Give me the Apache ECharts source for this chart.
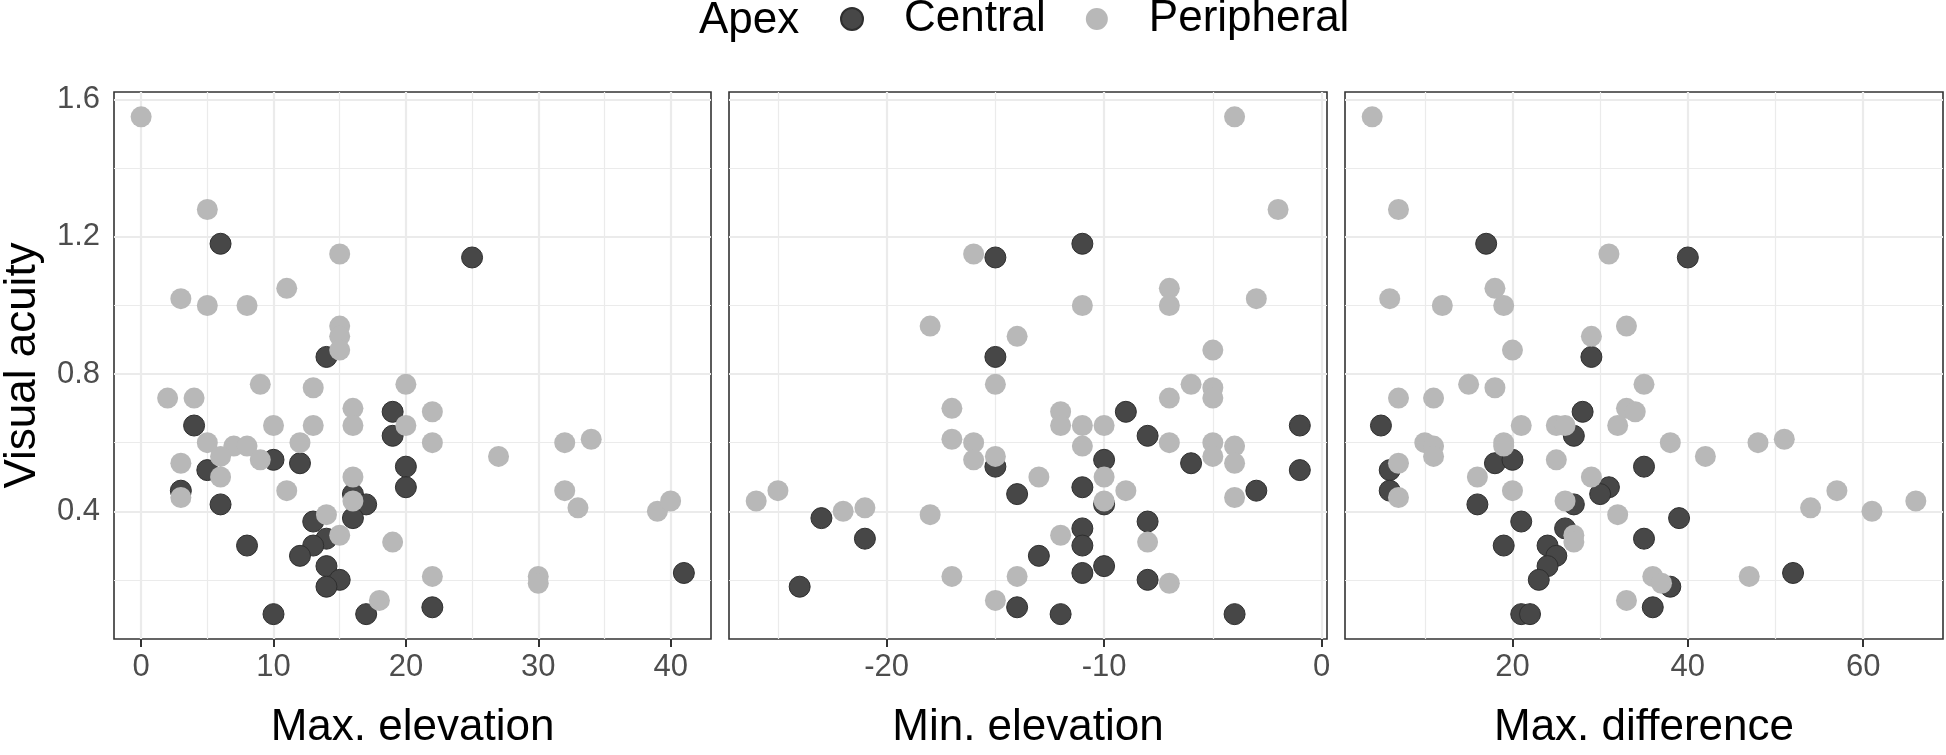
<!DOCTYPE html>
<html>
<head>
<meta charset="utf-8">
<script src="https://cdn.jsdelivr.net/npm/echarts@6/dist/echarts.min.js"></script>
<style>
  html, body { margin: 0; padding: 0; background: #fff; }
  #main { width: 1946px; height: 755px; }
</style>
</head>
<body>
<div id="main"></div>
<script>
// 数据: [x, 视力]
var maxElevCentral = [[6,1.18],[14,0.85],[25,1.14],[4,0.65],[19,0.69],[19,0.62],[10,0.55],[12,0.54],
	[5,0.52],[3,0.46],[6,0.42],[16,0.45],[17,0.42],[16,0.38],[13,0.37],[14,0.32],[13,0.30],[12,0.27],
	[8,0.30],[14,0.24],[15,0.20],[14,0.18],[10,0.10],[17,0.10],[20,0.53],[20,0.47],[41,0.22],[22,0.12]];
var maxElevPeripheral = [[0,1.55],[5,1.28],[15,1.15],[3,1.02],[5,1.00],[8,1.00],[11,1.05],[15,0.94],
	[15,0.91],[15,0.87],[9,0.77],[2,0.73],[4,0.73],[13,0.76],[20,0.77],[16,0.70],[16,0.65],[10,0.65],
	[13,0.65],[20,0.65],[5,0.60],[7,0.59],[8,0.59],[6,0.56],[9,0.55],[12,0.60],[3,0.54],[6,0.50],
	[3,0.44],[11,0.46],[16,0.50],[16,0.43],[14,0.39],[15,0.33],[19,0.31],[18,0.14],[22,0.69],[22,0.60],
	[27,0.56],[32,0.60],[34,0.61],[32,0.46],[33,0.41],[39,0.40],[40,0.43],[22,0.21],[30,0.21],[30,0.19]];

var minElevCentral = [[-11,1.18],[-15,1.14],[-15,0.85],[-9,0.69],[-1,0.65],[-8,0.62],[-15,0.53],
	[-10,0.55],[-6,0.54],[-1,0.52],[-11,0.47],[-14,0.45],[-3,0.46],[-10,0.42],[-23,0.38],[-8,0.37],
	[-11,0.35],[-21,0.32],[-11,0.30],[-13,0.27],[-10,0.24],[-24,0.18],[-11,0.22],[-8,0.20],[-14,0.12],
	[-12,0.10],[-4,0.10]];
var minElevPeripheral = [[-4,1.55],[-2,1.28],[-16,1.15],[-7,1.05],[-7,1.00],[-11,1.00],[-3,1.02],
	[-18,0.94],[-14,0.91],[-5,0.87],[-15,0.77],[-6,0.77],[-5,0.76],[-7,0.73],[-5,0.73],[-17,0.70],
	[-12,0.69],[-12,0.65],[-11,0.65],[-10,0.65],[-17,0.61],[-16,0.60],[-11,0.59],[-7,0.60],[-5,0.60],
	[-4,0.59],[-16,0.55],[-15,0.56],[-5,0.56],[-4,0.54],[-13,0.50],[-10,0.50],[-9,0.46],[-4,0.44],
	[-25,0.46],[-26,0.43],[-10,0.43],[-22,0.40],[-21,0.41],[-18,0.39],[-12,0.33],[-8,0.31],[-17,0.21],
	[-14,0.21],[-7,0.19],[-15,0.14]];

var maxDiffCentral = [[17,1.18],[40,1.14],[29,0.85],[28,0.69],[5,0.65],[27,0.62],[18,0.54],[20,0.55],
	[35,0.53],[6,0.52],[6,0.46],[31,0.47],[30,0.45],[27,0.42],[16,0.42],[39,0.38],[21,0.37],[26,0.35],
	[35,0.32],[19,0.30],[24,0.30],[25,0.27],[24,0.24],[23,0.20],[38,0.18],[36,0.12],[21,0.10],[22,0.10],
	[52,0.22]];
var maxDiffPeripheral = [[4,1.55],[7,1.28],[31,1.15],[6,1.02],[12,1.00],[18,1.05],[19,1.00],[33,0.94],
	[29,0.91],[20,0.87],[15,0.77],[18,0.76],[35,0.77],[7,0.73],[11,0.73],[33,0.70],[34,0.69],[21,0.65],
	[25,0.65],[26,0.65],[32,0.65],[10,0.60],[11,0.59],[11,0.56],[19,0.60],[19,0.59],[38,0.60],[42,0.56],
	[48,0.60],[51,0.61],[25,0.55],[7,0.54],[16,0.50],[29,0.50],[7,0.44],[20,0.46],[26,0.43],[32,0.39],
	[27,0.33],[27,0.31],[36,0.21],[37,0.19],[33,0.14],[47,0.21],[54,0.41],[57,0.46],[61,0.40],[66,0.43]];

// 刻度
var yTicks = [0.4, 0.8, 1.2, 1.6];
var yMinor = [0.2, 0.6, 1.0, 1.4];
var maxElevTicks = [0, 10, 20, 30, 40];
var maxElevMinor = [5, 15, 25, 35];
var minElevTicks = [-20, -10, 0];
var minElevMinor = [-25, -15, -5];
var maxDiffTicks = [20, 40, 60];
var maxDiffMinor = [10, 30, 50];

var FONT = 'Liberation Sans';
var DARK = '#474747';
var LIGHT = '#b8b8b8';

var panels = [
	{ left: 113, name: 'Max. elevation', min: -2.05, max: 43.05, ticks: maxElevTicks, minor: maxElevMinor,
		central: maxElevCentral, peripheral: maxElevPeripheral },
	{ left: 729, name: 'Min. elevation', min: -27.25, max: 0.25, ticks: minElevTicks, minor: minElevMinor,
		central: minElevCentral, peripheral: minElevPeripheral },
	{ left: 1345, name: 'Max. difference', min: 0.9, max: 69.1, ticks: maxDiffTicks, minor: maxDiffMinor,
		central: maxDiffCentral, peripheral: maxDiffPeripheral }
];

var grids = [], xAxes = [], yAxes = [], series = [];

panels.forEach(function(p, i) {
	grids.push({
		left: p.left, top: 92, width: 598, height: 555,
		show: true, borderColor: '#333333', borderWidth: 1.6, backgroundColor: 'transparent'
	});
	xAxes.push({
		gridIndex: i, type: 'value', min: p.min, max: p.max,
		name: p.name, nameLocation: 'middle', nameGap: 67,
		nameTextStyle: { fontFamily: FONT, fontSize: 44, color: '#000' },
		axisLine: { show: false },
		axisTick: { show: true, customValues: p.ticks, length: 8, lineStyle: { color: '#333', width: 2 } },
		axisLabel: { customValues: p.ticks, margin: 13, fontFamily: FONT, fontSize: 31, color: '#4d4d4d' },
		splitLine: { show: false }
	});
	yAxes.push({
		gridIndex: i, type: 'value', min: 0.0275, max: 1.6225,
		name: i == 0 ? 'Visual acuity' : '', nameLocation: 'middle', nameGap: 69,
		nameTextStyle: { fontFamily: FONT, fontSize: 44, color: '#000' },
		axisLine: { show: false },
		axisTick: { show: i == 0, customValues: yTicks, length: 8, lineStyle: { color: '#333', width: 2 } },
		axisLabel: { show: i == 0, customValues: yTicks, margin: 14, fontFamily: FONT, fontSize: 31,
			color: '#4d4d4d', formatter: function(v) { return v.toFixed(1); } },
		splitLine: { show: false }
	});

	// 网格线
	var lines = [];
	p.minor.forEach(function(v) { lines.push({ xAxis: v, lineStyle: { width: 1.2 } }); });
	yMinor.forEach(function(v) { lines.push({ yAxis: v, lineStyle: { width: 1.2 } }); });
	p.ticks.forEach(function(v) { lines.push({ xAxis: v, lineStyle: { width: 2.2 } }); });
	yTicks.forEach(function(v) { lines.push({ yAxis: v, lineStyle: { width: 2.2 } }); });

	series.push({
		name: 'Central', type: 'scatter', xAxisIndex: i, yAxisIndex: i,
		data: p.central, symbolSize: 21, z: 3,
		itemStyle: { color: DARK, borderColor: '#2f2f2f', borderWidth: 1, opacity: 1 },
		markLine: {
			silent: true, symbol: ['none', 'none'], label: { show: false }, animation: false, z: 1,
			lineStyle: { color: '#ebebeb', type: 'solid' },
			data: lines
		}
	});
	series.push({
		name: 'Peripheral', type: 'scatter', xAxisIndex: i, yAxisIndex: i,
		data: p.peripheral, symbolSize: 21, z: 4,
		itemStyle: { color: LIGHT, opacity: 1 }
	});
});

var myChart = echarts.init(document.getElementById('main'));
myChart.setOption({
	backgroundColor: '#fff',
	animation: false,
	grid: grids,
	xAxis: xAxes,
	yAxis: yAxes,
	legend: {
		data: ['Central', 'Peripheral'],
		left: 835, top: -8,
		icon: 'circle', itemWidth: 22, itemHeight: 22, itemGap: 40,
		textStyle: { fontFamily: FONT, fontSize: 44, color: '#000', padding: [0, 0, 0, 36] }
	},
	graphic: [{
		type: 'text', x: 699, y: 21,
		style: { text: 'Apex', font: '44px "Liberation Sans"', fill: '#000', verticalAlign: 'middle' }
	}],
	series: series
});
</script>
</body>
</html>
